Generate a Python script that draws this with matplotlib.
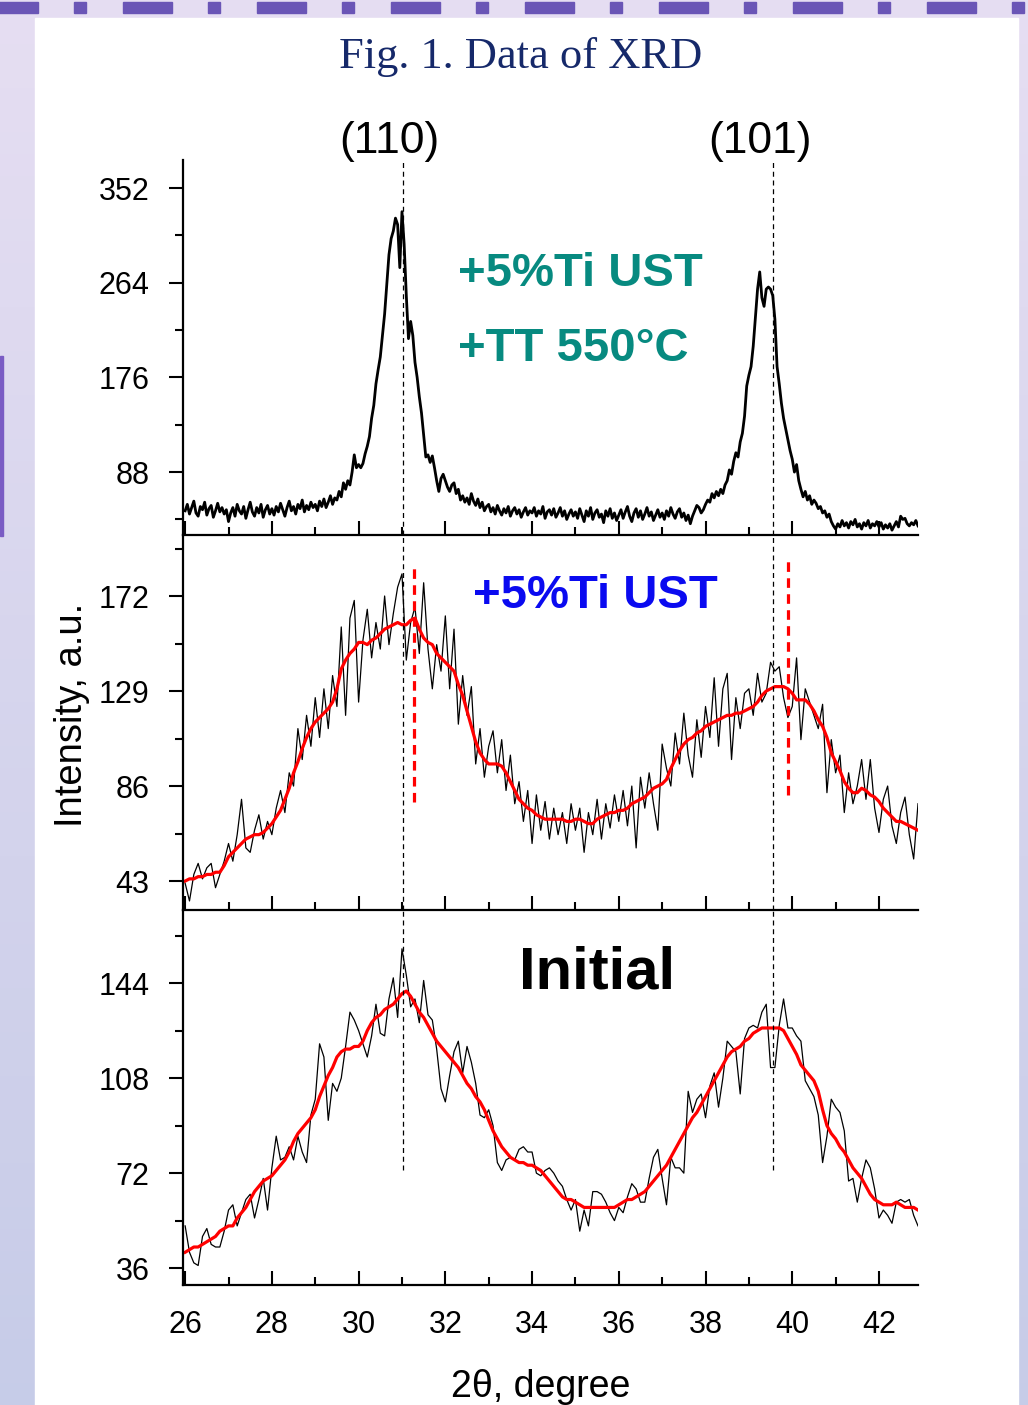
import numpy as np
import matplotlib.pyplot as plt
from matplotlib.ticker import MultipleLocator
from matplotlib.patches import Rectangle

plt.rcParams['font.family'] = ['Liberation Sans', 'DejaVu Sans']

# ---- data ----
# top panel (+5%Ti UST +TT 550C), step 0.05 deg from 26.0
top_counts = [
    52, 58, 49, 55, 61, 50, 47, 56, 53, 60, 48, 54, 57, 46, 52, 59, 51, 55, 49, 53,
    42, 50, 55, 47, 58, 52, 49, 56, 45, 53, 60, 51, 47, 55, 50, 58, 46, 53, 57, 49,
    54, 48, 56, 51, 59, 53, 47, 55, 61, 52, 56, 49, 58, 54, 62, 51, 57, 53, 60, 55,
    58, 52, 61, 56, 63, 55, 60, 66, 58, 64, 62, 70, 65, 78, 72, 80, 76, 88, 104, 92,
    95, 92, 96, 105, 112, 121, 138, 150, 170, 183, 195, 215, 235, 262, 290, 305, 312, 324, 318, 278,
    330, 300, 252, 212, 228, 215, 190, 176, 158, 143, 122, 102, 104, 97, 103, 92, 80, 70, 82, 86,
    80, 74, 70, 76, 78, 68, 72, 62, 66, 60, 64, 58, 68, 61, 57, 63, 55, 60, 52, 56,
    58, 51, 55, 49, 57, 52, 48, 54, 50, 56, 47, 52, 55, 49, 53, 46, 51, 55, 48, 52,
    50, 55, 47, 52, 49, 56, 45, 51, 53, 48, 54, 46, 50, 55, 47, 52, 44, 49, 53, 47,
    51, 45, 54, 48, 42, 52, 47, 55, 44, 50, 53, 46, 49, 41, 52, 47, 54, 45, 50, 43,
    48, 53, 45, 51, 56, 47, 42, 50, 54, 46, 52, 44, 49, 55, 47, 51, 43, 48, 53, 46,
    50, 44, 52, 47, 55, 49, 45, 51, 54, 46, 50, 43, 48, 40, 47, 52, 57, 55, 50, 53,
    58, 62, 60, 68, 64, 70, 66, 72, 68, 76, 80, 90, 86, 98, 106, 102, 116, 124, 140, 168,
    178, 186, 205, 232, 258, 274, 250, 242, 258, 260, 258, 252, 230, 186, 170, 152, 138, 128, 118, 108,
    100, 88, 95, 80, 72, 65, 70, 62, 66, 58, 62, 59, 54, 56, 50, 52, 46, 49, 42, 38,
    35, 40, 37, 43, 38, 41, 36, 42, 39, 44, 37, 40, 35, 41, 38, 43, 36, 40, 38, 42,
    37, 41, 35, 39, 36, 40, 34, 38, 42, 37, 47, 44, 45, 40, 38, 41, 39, 43, 38,
]

# middle panel (+5%Ti UST), step 0.1 deg from 26.0
ust_raw = [
    42, 34, 46, 51, 44, 49, 51, 40, 46, 52,
    60, 52, 64, 80, 58, 56, 66, 73, 62, 70,
    64, 76, 84, 74, 92, 86, 112, 98, 118, 104,
    126, 108, 130, 112, 136, 122, 158, 118, 162, 170,
    124, 152, 166, 144, 160, 148, 172, 150, 164, 176,
    182, 143, 160, 167, 146, 178, 148, 130, 150, 138,
    163, 130, 157, 114, 136, 118, 131, 96, 112, 90,
    104, 111, 92, 107, 84, 100, 78, 88, 70, 84,
    60, 82, 66, 79, 62, 76, 64, 74, 60, 78,
    66, 76, 56, 74, 64, 80, 62, 78, 67, 82,
    70, 84, 68, 86, 58, 90, 76, 92, 78, 66,
    105, 94, 86, 110, 96, 119, 100, 90, 116, 99,
    122, 108, 135, 104, 130, 137, 98, 126, 112, 128,
    130, 118, 137, 124, 128, 142, 138, 140, 126, 117,
    122, 144, 107, 130, 124, 118, 112, 123, 83, 107,
    92, 100, 74, 92, 78, 86, 98, 80, 98, 76,
    65, 80, 86, 68, 60, 74, 81, 64, 53, 78,
]
ust_smooth = [
    43, 44, 44, 45, 45, 46, 46, 47, 47, 50,
    54, 56, 58, 60, 62, 63, 64, 64, 65, 67,
    69, 72, 75, 80, 85, 92, 97, 103, 108, 112,
    115, 117, 119, 121, 124, 130, 139, 143, 146, 148,
    151, 151, 150, 152, 153, 155, 157, 158, 159, 160,
    159, 159, 161, 162, 157, 153, 151, 150, 146, 144,
    142, 140, 138, 132, 127, 120, 113, 106, 101, 98,
    96, 96, 96, 95, 92, 88, 84, 80, 78, 76,
    75, 73, 72, 71, 71, 71, 71, 71, 70, 70,
    71, 71, 70, 69, 69, 71, 72, 73, 74, 74,
    75, 75, 76, 78, 79, 80, 81, 83, 85, 86,
    87, 89, 94, 98, 102, 105, 107, 108, 110, 111,
    113, 114, 115, 116, 117, 118, 118, 119, 119, 120,
    121, 122, 124, 127, 129, 130, 131, 131, 131, 130,
    128, 125, 125, 125, 123, 120, 116, 113, 108, 101,
    97, 93, 88, 85, 83, 83, 85, 84, 82, 81,
    79, 76, 74, 72, 70, 70, 69, 68, 67, 66,
]

# bottom panel (Initial), step 0.1 deg from 26.0
init_raw = [
    52, 42, 38, 37, 48, 51, 45, 44, 44, 50,
    58, 60, 52, 57, 62, 64, 55, 62, 70, 58,
    74, 86, 77, 78, 82, 77, 86, 80, 76, 94,
    100, 121, 116, 92, 106, 103, 108, 120, 133, 130,
    126, 121, 116, 124, 136, 125, 124, 138, 146, 131,
    157, 147, 135, 138, 129, 145, 132, 130, 119, 104,
    99, 109, 118, 122, 110, 120, 114, 106, 94, 93,
    96, 90, 76, 73, 77, 78, 77, 81, 82, 80,
    80, 72, 71, 73, 74, 72, 69, 67, 62, 58,
    62, 50, 58, 52, 65, 65, 64, 61, 57, 54,
    59, 57, 63, 68, 66, 61, 61, 70, 78, 81,
    70, 60, 78, 74, 74, 72, 103, 95, 100, 102,
    93, 105, 110, 97, 108, 122, 120, 118, 102, 123,
    127, 128, 127, 133, 136, 112, 112, 128, 138, 127,
    127, 124, 122, 107, 104, 101, 94, 76, 86, 100,
    97, 95, 88, 69, 70, 61, 70, 77, 74, 66,
    55, 58, 56, 53, 61, 62, 61, 62, 56, 52,
]
init_smooth = [
    42, 43, 44, 44, 45, 46, 47, 48, 50, 51,
    52, 52, 55, 57, 59, 62, 65, 67, 69, 70,
    71, 73, 75, 77, 80, 84, 87, 89, 91, 93,
    96, 101, 105, 109, 112, 116, 118, 119, 119, 120,
    120, 122, 126, 129, 131, 132, 134, 135, 136, 138,
    140, 141, 139, 136, 133, 131, 128, 125, 122, 120,
    118, 116, 114, 112, 109, 106, 104, 101, 99, 96,
    92, 88, 85, 82, 80, 78, 77, 76, 76, 75,
    75, 74, 73, 71, 69, 67, 65, 63, 62, 62,
    61, 60, 59, 59, 59, 59, 59, 59, 59, 59,
    60, 61, 62, 62, 63, 64, 65, 67, 69, 71,
    73, 75, 78, 81, 84, 87, 90, 93, 95, 98,
    101, 104, 107, 110, 113, 116, 118, 119, 120, 122,
    123, 125, 126, 127, 127, 127, 127, 127, 126, 123,
    120, 117, 113, 111, 109, 107, 103, 96, 90, 87,
    85, 82, 80, 77, 74, 72, 70, 67, 64, 62,
    61, 60, 60, 60, 61, 60, 59, 59, 59, 58,
]

x_top = 26 + 0.05 * np.arange(len(top_counts))
x_fine = 26 + 0.1 * np.arange(len(ust_raw))

peak_pos = [31.02, 39.56]
peak_names = ['(110)', '(101)']
shift_pos = [31.28, 39.90]
shift_low = [79, 82]
shift_high = [187, 190]

# ---- figure and slide background ----
fig = plt.figure(figsize=(10.28, 14.05), dpi=100)

bg = fig.add_axes([0, 0, 1, 1], zorder=-10)
bg.set_xlim(0, 1028)
bg.set_ylim(1405, 0)
bg.axis('off')
grad = np.linspace(0, 1, 64)[:, None, None]
c_top = np.array([0.90, 0.87, 0.95])
c_bot = np.array([0.78, 0.80, 0.91])
bg.imshow(c_top + (c_bot - c_top) * grad, extent=(0, 1028, 1405, 0), aspect='auto')
bg.add_patch(Rectangle((35, 18), 983, 1400, color='white'))
for k in range(-1, 8):
    bg.add_patch(Rectangle((122.6 + 134 * k, 2), 49, 11, color='#6a55b6'))
    bg.add_patch(Rectangle((74 + 134 * k, 2), 12, 11, color='#6a55b6'))
bg.add_patch(Rectangle((0, 356), 2.5, 180, color='#7a5cc4'))

L, W, H = 0.178, 0.715, 0.2669
ax1 = fig.add_axes([L, 0.6192, W, H], facecolor='none')
ax2 = fig.add_axes([L, 0.3523, W, H], facecolor='none')
ax3 = fig.add_axes([L, 0.0854, W, H], facecolor='none')

ax1.plot(x_top, top_counts, color='black', lw=2.0)
ax2.plot(x_fine, ust_raw, color='black', lw=0.9)
ax2.plot(x_fine, ust_smooth, color='red', lw=2.3)
ax3.plot(x_fine, init_raw, color='black', lw=0.9)
ax3.plot(x_fine, init_smooth, color='red', lw=2.3)

ax1.set_ylim(29.5, 378)
ax2.set_ylim(29.9, 199.6)
ax3.set_ylim(29.6, 171.7)

for ax, major in [(ax1, 88), (ax2, 43), (ax3, 36)]:
    ax.set_xlim(25.95, 42.9)
    ax.xaxis.set_major_locator(MultipleLocator(2))
    ax.xaxis.set_minor_locator(MultipleLocator(1))
    ax.yaxis.set_major_locator(MultipleLocator(major))
    ax.yaxis.set_minor_locator(MultipleLocator(major / 2))
    for s in ['top', 'right']:
        ax.spines[s].set_visible(False)
    for s in ['left', 'bottom']:
        ax.spines[s].set_linewidth(1.6)
    ax.tick_params(axis='x', which='major', direction='in', length=10, width=1.5,
                   labelsize=22, pad=18)
    ax.tick_params(axis='x', which='minor', direction='in', length=5.5, width=1.5)
    ax.tick_params(axis='y', which='major', direction='out', length=10, width=1.5,
                   labelsize=22, pad=14)
    ax.tick_params(axis='y', which='minor', direction='out', length=5.5, width=1.5)

ax1.tick_params(axis='x', labelbottom=False)
ax2.tick_params(axis='x', labelbottom=False)

# reference lines of the peaks
for p in peak_pos:
    ax1.axvline(p, color='black', lw=0.9, ls=(0, (4, 3)))
    ax2.axvline(p, color='black', lw=0.9, ls=(0, (4, 3)))
    ax3.vlines(p, 73, 171.7, color='black', lw=0.9, linestyles=(0, (4, 3)))
ax2.vlines(shift_pos, shift_low, shift_high, color='red', lw=2.3, linestyles=(0, (3, 2)))

for p, name in zip(peak_pos, peak_names):
    ax1.text(p - 0.3, 1.05, name, transform=ax1.get_xaxis_transform(),
             ha='center', va='center', fontsize=32)

ax1.text(32.29, 272, '+5%Ti UST', color='#078a80', fontsize=34,
         fontweight='bold', va='center')
ax1.text(32.29, 202, '+TT 550°C', color='#078a80', fontsize=34,
         fontweight='bold', va='center')
ax2.text(32.64, 172, '+5%Ti UST', color='#0a0af0', fontsize=34,
         fontweight='bold', va='center')
ax3.text(33.70, 148, 'Initial', color='black', fontsize=43,
         fontweight='bold', va='center')

fig.text(0.506, 0.9594, 'Fig. 1. Data of XRD', family='Liberation Serif',
         fontsize=32, color='#16296a', ha='center', va='center')
fig.text(0.070, 0.491, 'Intensity, a.u.', rotation=90, fontsize=27.5,
         ha='center', va='center')
fig.text(0.526, 0.013, '2θ, degree', fontsize=27, ha='center', va='center')

fig.savefig('out.png', dpi=100)
